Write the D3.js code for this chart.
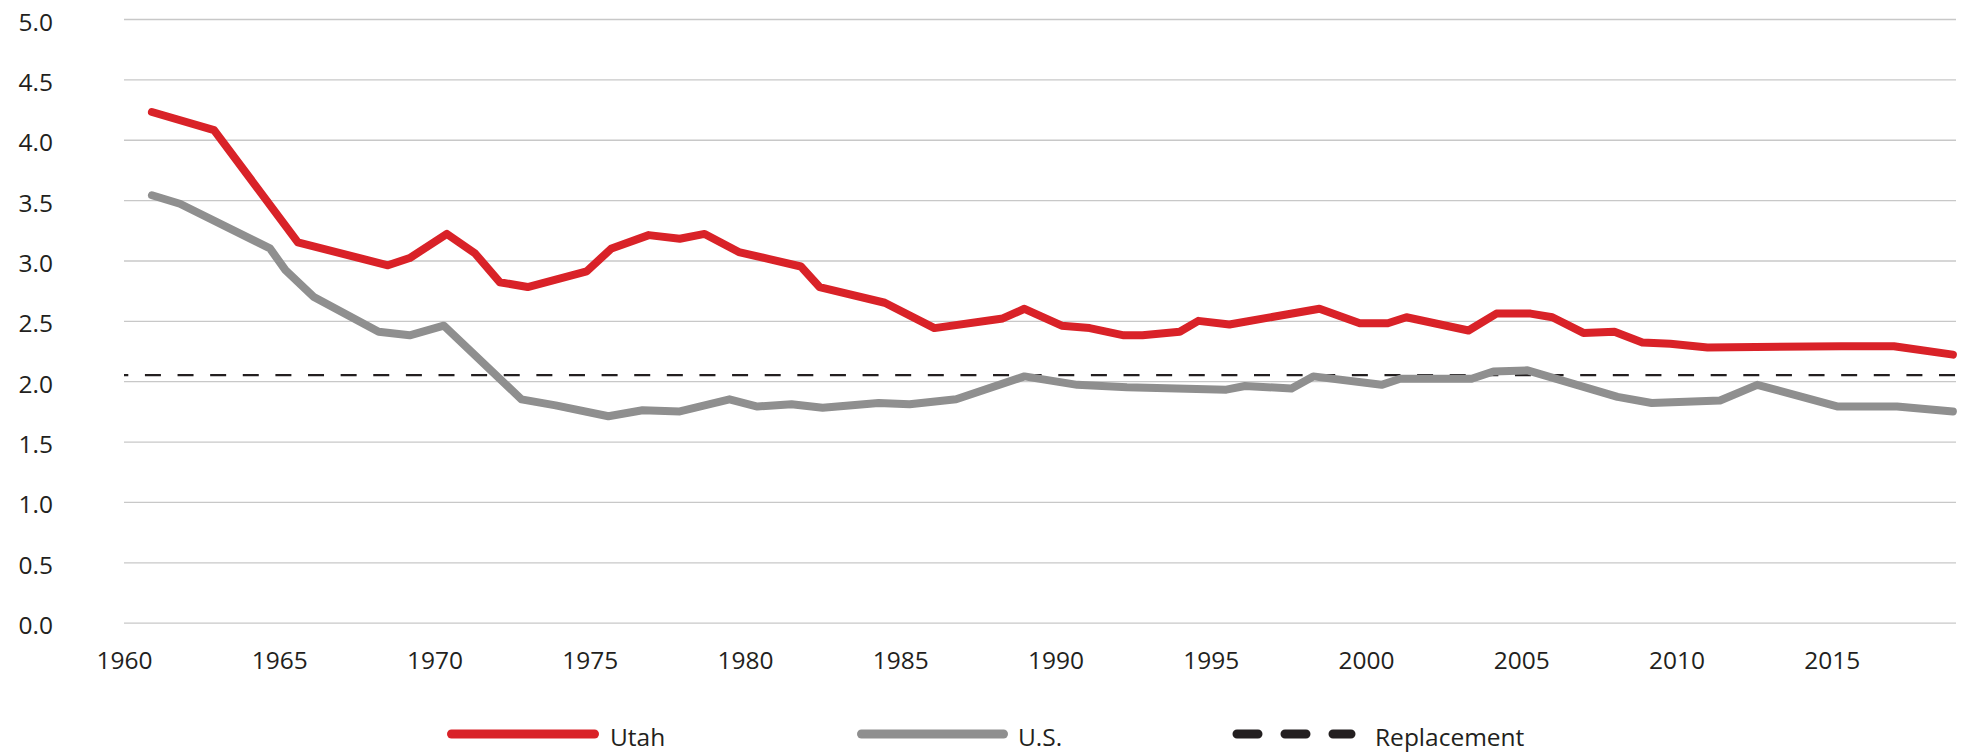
<!DOCTYPE html>
<html>
<head>
<meta charset="utf-8">
<script src="https://cdn.jsdelivr.net/npm/d3@7"></script>
<style>
  html, body { margin: 0; padding: 0; background: #fff; }
  svg { display: block; font-family: "Open Sans", "Noto Sans", sans-serif; }
</style>
</head>
<body>
<svg id="chart" width="1964" height="754"></svg>
<script>
// Vertices, year (x) and fertility rate (y)
var utahYears = [1960.9, 1962.9, 1965.6, 1968.5, 1969.2, 1970.4, 1971.3, 1972.1, 1973.0, 1974.9,
  1975.7, 1976.9, 1977.9, 1978.7, 1979.8, 1981.8, 1982.4, 1984.5, 1986.1, 1988.3,
  1989.0, 1990.2, 1991.1, 1992.2, 1992.8, 1994.0, 1994.6, 1995.6, 1998.5, 1999.8,
  2000.7, 2001.3, 2003.3, 2004.2, 2005.3, 2006.0, 2007.0, 2008.0, 2008.9, 2009.8,
  2011.0, 2015.3, 2017.0, 2018.9];
var utahValues = [4.23, 4.08, 3.15, 2.96, 3.02, 3.22, 3.06, 2.82, 2.78, 2.91,
  3.10, 3.21, 3.18, 3.22, 3.07, 2.95, 2.78, 2.65, 2.44, 2.52,
  2.60, 2.46, 2.44, 2.38, 2.38, 2.41, 2.50, 2.47, 2.60, 2.48,
  2.48, 2.53, 2.42, 2.56, 2.56, 2.53, 2.40, 2.41, 2.32, 2.31,
  2.28, 2.29, 2.29, 2.22];

var usYears = [1960.9, 1961.8, 1964.7, 1965.2, 1966.1, 1968.2, 1969.2, 1970.3, 1972.8, 1973.9,
  1975.6, 1976.7, 1977.9, 1979.5, 1980.4, 1981.5, 1982.5, 1984.3, 1985.3, 1986.8,
  1989.0, 1990.7, 1992.3, 1995.5, 1996.1, 1997.6, 1998.3, 2000.5, 2001.1, 2003.4,
  2004.1, 2005.2, 2008.1, 2009.2, 2011.4, 2012.6, 2015.2, 2017.1, 2018.9];
var usValues = [3.54, 3.47, 3.10, 2.92, 2.70, 2.41, 2.38, 2.46, 1.85, 1.80,
  1.71, 1.76, 1.75, 1.85, 1.79, 1.81, 1.78, 1.82, 1.81, 1.85,
  2.04, 1.97, 1.95, 1.93, 1.96, 1.94, 2.04, 1.97, 2.02, 2.02,
  2.08, 2.09, 1.87, 1.82, 1.84, 1.97, 1.79, 1.79, 1.75];

var replacementRate = 2.05;

var xTicks = [1960, 1965, 1970, 1975, 1980, 1985, 1990, 1995, 2000, 2005, 2010, 2015];
var yTicks = [0, 0.5, 1, 1.5, 2, 2.5, 3, 3.5, 4, 4.5, 5];
var legendLabels = ["Utah", "U.S.", "Replacement"];

(function() {
  var RED = "#d92228", GRAY = "#8f8f8f", INK = "#231f20";

  var svg = d3.select("#chart");
  var plotLeft = 124, plotRight = 1956, plotTop = 19, plotBottom = 622.7;

  var x = d3.scaleLinear().domain([1960, 2019]).range([plotLeft, plotRight]);
  var y = d3.scaleLinear().domain([0, 5]).range([plotBottom, plotTop]);

  // gridlines + y labels
  var yAxis = svg.append("g")
    .attr("transform", "translate(" + plotLeft + ",0)")
    .call(d3.axisLeft(y)
      .tickValues(yTicks)
      .tickSize(-(plotRight - plotLeft))
      .tickPadding(71)
      .tickFormat(d3.format(".1f")))
    .attr("font-family", null)
    .attr("font-size", null);
  yAxis.select(".domain").remove();
  yAxis.selectAll(".tick line").attr("stroke", "#c8c8c8").attr("stroke-width", 1.3);
  yAxis.selectAll(".tick text")
    .attr("fill", INK)
    .attr("font-size", "24.5px")
    .attr("dy", "11");

  // x labels
  var xAxis = svg.append("g")
    .attr("transform", "translate(0," + plotBottom + ")")
    .call(d3.axisBottom(x)
      .tickValues(xTicks)
      .tickSize(0)
      .tickPadding(29)
      .tickFormat(d3.format("d")))
    .attr("font-family", null)
    .attr("font-size", null);
  xAxis.select(".domain").remove();
  xAxis.selectAll(".tick text")
    .attr("fill", INK)
    .attr("font-size", "24.5px");

  // replacement level
  svg.append("line")
    .attr("x1", plotLeft).attr("x2", plotRight)
    .attr("y1", y(replacementRate)).attr("y2", y(replacementRate))
    .attr("stroke", INK)
    .attr("stroke-width", 2.2)
    .attr("stroke-dasharray", "16 16.62")
    .attr("stroke-dashoffset", 11.7);

  var line = d3.line()
    .x(function(d) { return x(d[0]); })
    .y(function(d) { return y(d[1]); });

  var usData = d3.zip(usYears, usValues);
  var utahData = d3.zip(utahYears, utahValues);

  svg.append("path")
    .datum(usData)
    .attr("d", line)
    .attr("fill", "none")
    .attr("stroke", GRAY)
    .attr("stroke-width", 8)
    .attr("stroke-linecap", "round")
    .attr("stroke-linejoin", "round");

  svg.append("path")
    .datum(utahData)
    .attr("d", line)
    .attr("fill", "none")
    .attr("stroke", RED)
    .attr("stroke-width", 8)
    .attr("stroke-linecap", "round")
    .attr("stroke-linejoin", "round");

  // legend
  var legendY = 734;
  var legendItems = [
    { label: legendLabels[0], x1: 451.5, x2: 594.5, color: RED, dash: null, tx: 610 },
    { label: legendLabels[1], x1: 861.5, x2: 1003.5, color: GRAY, dash: null, tx: 1018 },
    { label: legendLabels[2], x1: 1237, x2: 1351, color: INK, dash: "21 27", tx: 1375 }
  ];
  var lg = svg.append("g");
  legendItems.forEach(function(d) {
    lg.append("line")
      .attr("x1", d.x1).attr("x2", d.x2)
      .attr("y1", legendY).attr("y2", legendY)
      .attr("stroke", d.color)
      .attr("stroke-width", 9)
      .attr("stroke-linecap", "round")
      .attr("stroke-dasharray", d.dash);
    lg.append("text")
      .attr("x", d.tx)
      .attr("y", legendY + 12)
      .attr("fill", INK)
      .attr("font-size", "24.5px")
      .text(d.label);
  });
})();
</script>
</body>
</html>
